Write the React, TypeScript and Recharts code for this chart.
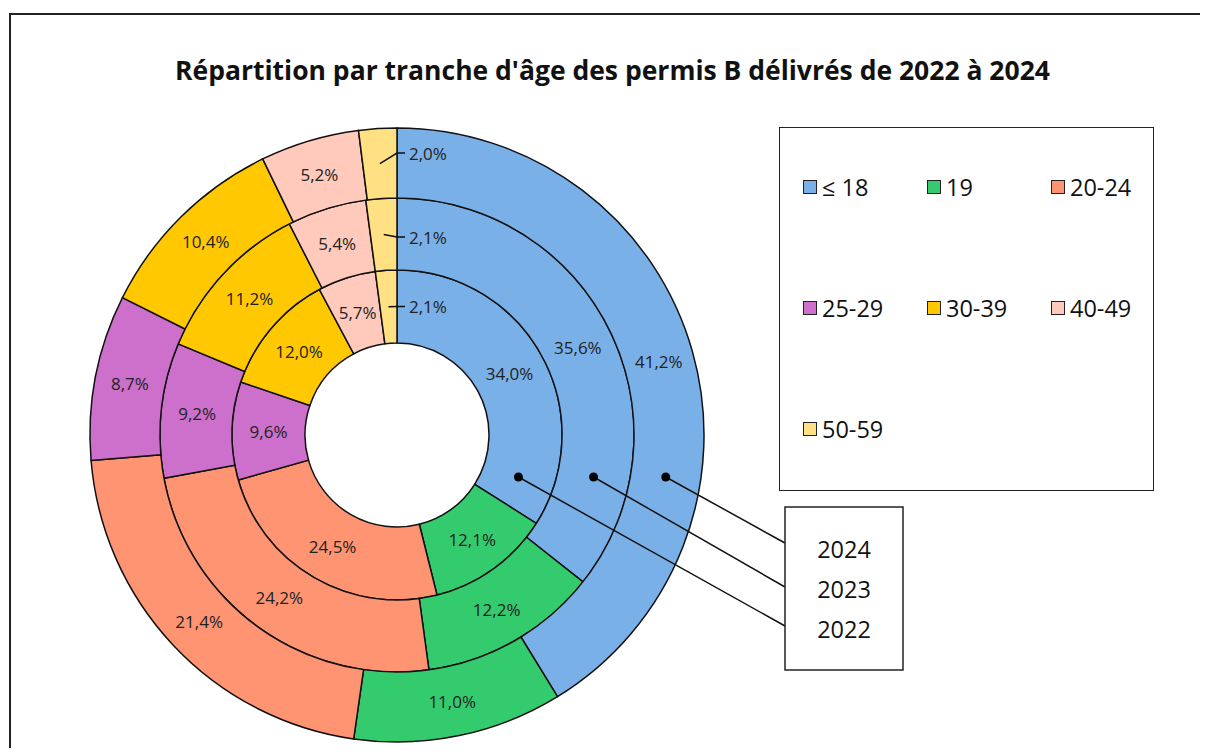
import React from 'react';
import { PieChart, Pie, Cell } from 'recharts';

// age brackets and their colours
const categories = ['≤ 18', '19', '20-24', '25-29', '30-39', '40-49', '50-59'];
const colors = ['#7AB0E8', '#34CB6E', '#FF9473', '#CC70CC', '#FFC800', '#FFCABB', '#FFE083'];

// share of permits (%) per year, same order as categories
const values2022 = [34.0, 12.1, 24.5, 9.6, 12.0, 5.7, 2.1];
const values2023 = [35.6, 12.2, 24.2, 9.2, 11.2, 5.4, 2.1];
const values2024 = [41.2, 11.0, 21.4, 8.7, 10.4, 5.2, 2.0];

const years = ['2024', '2023', '2022'];

const CX = 397;
const CY = 435;
const FONT = '"Open Sans", sans-serif';
const RAD = Math.PI / 180;

// ring radii: inner = 2022, middle = 2023, outer = 2024
const rings = [
  { data: values2022, inner: 92, outer: 165, tickDy: 0 },
  { data: values2023, inner: 165, outer: 237, tickDy: 3 },
  { data: values2024, inner: 237, outer: 307, tickDy: -10 },
];

const fmt = (v: number) => v.toFixed(1).replace('.', ',') + '%';

const makeLabel = (tickDy: number) => (props: any) => {
  const { cx, cy, midAngle, innerRadius, outerRadius, value } = props;
  const r = (innerRadius + outerRadius) / 2;
  const x = cx + r * Math.cos(-midAngle * RAD);
  const y = cy + r * Math.sin(-midAngle * RAD);
  if (value < 3) {
    // tiny slice: leader line to the right of 12 o'clock
    const ey = cy - r + tickDy;
    return (
      <g>
        <polyline
          points={`${x},${y} ${cx},${ey} ${cx + 8},${ey}`}
          fill="none"
          stroke="#111"
          strokeWidth={1.5}
        />
        <text x={cx + 12} y={ey} dominantBaseline="central" fontSize={17} fill="#222" fontFamily={FONT}>
          {fmt(value)}
        </text>
      </g>
    );
  }
  return (
    <text x={x} y={y} textAnchor="middle" dominantBaseline="central" fontSize={17} fill="#222" fontFamily={FONT}>
      {fmt(value)}
    </text>
  );
};

const Legend = () => (
  <div
    style={{
      position: 'absolute',
      left: 779,
      top: 127,
      width: 373,
      height: 362,
      border: '1.5px solid #222',
      fontFamily: FONT,
      fontSize: 23.5,
      color: '#111',
    }}
  >
    {categories.map((c, i) => (
      <div
        key={c}
        style={{
          position: 'absolute',
          left: 23 + (i % 3) * 124,
          top: 46 + Math.floor(i / 3) * 121,
          display: 'flex',
          alignItems: 'center',
          height: 26,
        }}
      >
        <span
          style={{
            display: 'inline-block',
            width: 12,
            height: 12,
            background: colors[i],
            border: '1.5px solid #222',
            marginRight: 5,
          }}
        />
        <span>{c}</span>
      </div>
    ))}
  </div>
);

const YearCallout = () => {
  const dotDy = 42;
  const boxX = 785;
  const ends = [543, 587, 626];
  // outer ring first so it lines up with 2024
  const dots = [...rings].reverse().map((rg) => {
    const r = (rg.inner + rg.outer) / 2;
    return { x: CX + Math.sqrt(r * r - dotDy * dotDy), y: CY + dotDy };
  });
  return (
    <svg
      width={1208}
      height={756}
      style={{ position: 'absolute', left: 0, top: 0, pointerEvents: 'none' }}
    >
      {dots.map((d, i) => (
        <g key={i}>
          <line x1={d.x} y1={d.y} x2={boxX} y2={ends[i]} stroke="#111" strokeWidth={1.5} />
          <circle cx={d.x} cy={d.y} r={4.5} fill="#000" />
        </g>
      ))}
      <rect x={boxX} y={507} width={118} height={163} fill="#fff" stroke="#222" strokeWidth={1.5} />
      {years.map((y, i) => (
        <text
          key={y}
          x={boxX + 59}
          y={549 + i * 40}
          textAnchor="middle"
          dominantBaseline="central"
          fontSize={23.5}
          fill="#111"
          fontFamily={FONT}
        >
          {y}
        </text>
      ))}
    </svg>
  );
};

export default function App() {
  return (
    <div style={{ position: 'relative', width: 1208, height: 756, margin: -8, overflow: 'hidden', background: '#fff' }}>
      <div
        style={{
          position: 'absolute',
          left: 9,
          top: 13,
          width: 1220,
          height: 800,
          border: '2px solid #222',
        }}
      />
      <div
        style={{
          position: 'absolute',
          left: 0,
          top: 52,
          width: 1225,
          textAlign: 'center',
          fontFamily: FONT,
          fontWeight: 700,
          fontSize: 26.5,
          color: '#111',
        }}
      >
        Répartition par tranche d'âge des permis B délivrés de 2022 à 2024
      </div>
      <div style={{ position: 'absolute', left: 0, top: 0 }}>
        <PieChart width={1208} height={756} margin={{ top: 0, right: 0, bottom: 0, left: 0 }}>
          {rings.map((rg, k) => (
            <Pie
              key={k}
              data={rg.data.map((v, i) => ({ name: categories[i], value: v }))}
              dataKey="value"
              nameKey="name"
              cx={CX}
              cy={CY}
              innerRadius={rg.inner}
              outerRadius={rg.outer}
              startAngle={90}
              endAngle={-270}
              stroke="#111"
              strokeWidth={1.5}
              labelLine={false}
              label={makeLabel(rg.tickDy)}
              isAnimationActive={false}
            >
              {rg.data.map((_, i) => (
                <Cell key={i} fill={colors[i]} />
              ))}
            </Pie>
          ))}
        </PieChart>
      </div>
      <Legend />
      <YearCallout />
    </div>
  );
}
